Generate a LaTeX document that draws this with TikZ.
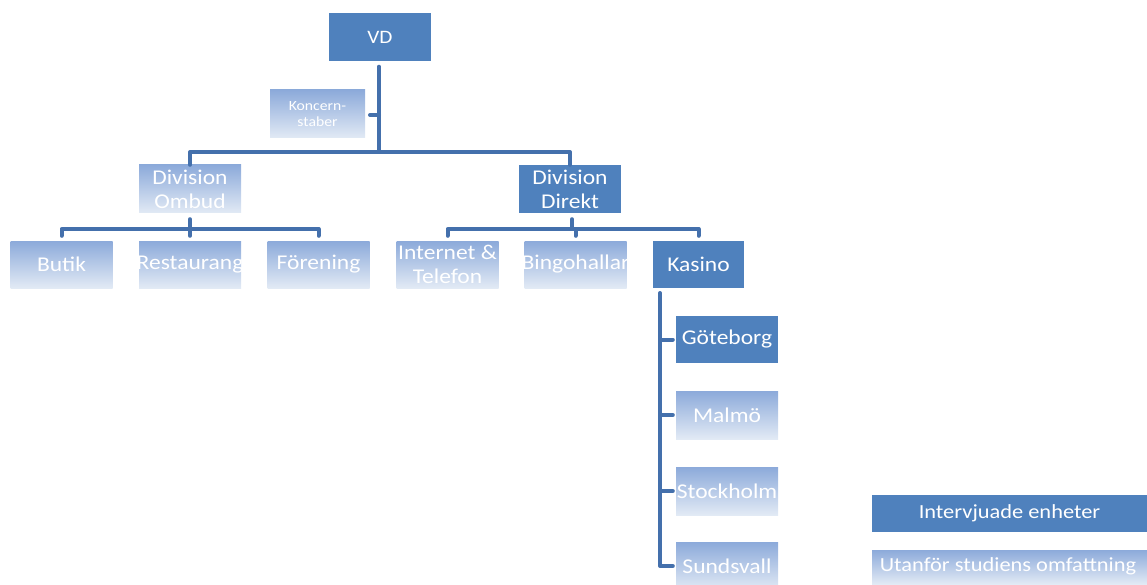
\documentclass[tikz,border=0pt]{standalone}
\usepackage{fontspec}
\setmainfont{Carlito}[FakeStretch=1.12]
\definecolor{dk}{RGB}{79,129,189}
\definecolor{ln}{RGB}{68,112,172}
\definecolor{lbA}{RGB}{140,170,218}
\definecolor{lbB}{RGB}{160,187,226}
\definecolor{lbC}{RGB}{226,234,245}
\tikzset{
  box/.style={rectangle, inner sep=0pt, minimum width=102pt, minimum height=48pt},
  darkbox/.style={box, fill=dk},
  lightbox/.style={box, top color=lbA, middle color=lbB, bottom color=lbC},
  lbl/.style={text=white, align=center, inner sep=0pt},
  big/.style={font=\fontsize{21}{24}\selectfont},
  conn/.style={draw=ln, line width=4pt, line join=round, line cap=round},
}
\begin{document}
\begin{tikzpicture}[x=1pt,y=-1pt]
\useasboundingbox (0,0) rectangle (1147,585);
% boxes
\node[darkbox] (vd) at (380,37.5) {};
\node[lbl, font=\fontsize{19}{22}\selectfont] (vdt) at (vd.center) {VD};
\node[lightbox, minimum width=95pt] (ks) at (317.5,114) {};
\node[lbl, font=\fontsize{14}{16}\selectfont] (kst) at (ks.center) {Koncern-\\staber};
\node[lightbox] (dom) at (190,189) {};
\node[lbl, big] (domt) at (dom.center) {Division\\Ombud};
\node[darkbox] (ddi) at (570,189) {};
\node[lbl, big] (ddit) at (ddi.center) {Division\\Direkt};
\node[lightbox, minimum height=47pt] (but) at (61.5,264.5) {};
\node[lbl, big] (butt) at (but.center) {Butik};
\node[lightbox, minimum height=47pt] (res) at (190,264.5) {};
\node[lbl, big] (rest) at (res.center) {Restaurang};
\node[lightbox, minimum height=47pt] (for) at (318.5,264.5) {};
\node[lbl, big] (fort) at (for.center) {Förening};
\node[lightbox, minimum height=47pt] (int) at (447.5,264.5) {};
\node[lbl, big] (intt) at (int.center) {Internet \&\\Telefon};
\node[lightbox, minimum height=47pt] (bin) at (575.5,264.5) {};
\node[lbl, big] (bint) at (bin.center) {Bingohallar};
\node[darkbox, minimum width=91pt, minimum height=47pt] (kas) at (698.5,264.5) {};
\node[lbl, big] (kast) at (kas.center) {Kasino};
\node[darkbox, minimum height=47pt] (got) at (727,339.5) {};
\node[lbl, big] (gott) at (got.center) {Göteborg};
\node[lightbox] (mal) at (727,415) {};
\node[lbl, big] (malt) at (mal.center) {Malmö};
\node[lightbox] (sto) at (727,491) {};
\node[lbl, big] (stot) at (sto.center) {Stockholm};
\node[lightbox] (sun) at (727,566) {};
\node[lbl, big] (sunt) at (sun.center) {Sundsvall};
% legend
\node[darkbox, minimum width=280pt, minimum height=37pt] (lg1) at (1012,513.5) {};
\node[lbl, font=\fontsize{20}{24}\selectfont] (lg1t) at (1009.5,513.5) {Intervjuade enheter};
\node[lightbox, minimum width=280pt, minimum height=34pt] (lg2) at (1012,567) {};
\node[lbl, font=\fontsize{20}{24}\selectfont] (lg2t) at (1008,566) {Utanför studiens omfattning};
% connectors
\coordinate (j1) at (379,152);
\draw[conn] ([yshift=-5pt]vd.south -| j1) -- (j1);
\draw[conn] (dom.north) |- (j1) -| (ddi.north);
\coordinate (kt) at (370,115);
\draw[conn] (kt) -- (kt -| j1);
% Ombud
\coordinate (bo) at (190,229);
\draw[conn] ([yshift=-6pt]dom.south) -- ([yshift=5pt]res.north);
\draw[conn] ([yshift=5pt]but.north) |- (bo) -| ([yshift=5pt]for.north);
% Direkt
\coordinate (bd) at (572,229);
\draw[conn] ([yshift=-6pt]ddi.south -| bd) -- (bd);
\draw[conn] ([yshift=5pt]int.north) |- (bd) -| ([yshift=5pt]kas.north);
\draw[conn] (bd) -| ([yshift=5pt]bin.north);
% Kasino
\coordinate (kv) at (660,293);
\draw[conn] (kv) |- ([xshift=-3pt]sun.west);
\draw[conn] (kv |- got.west) -- ([xshift=-3pt]got.west);
\draw[conn] (kv |- mal.west) -- ([xshift=-3pt]mal.west);
\draw[conn] (kv |- sto.west) -- ([xshift=-3pt]sto.west);
\end{tikzpicture}
\end{document}
